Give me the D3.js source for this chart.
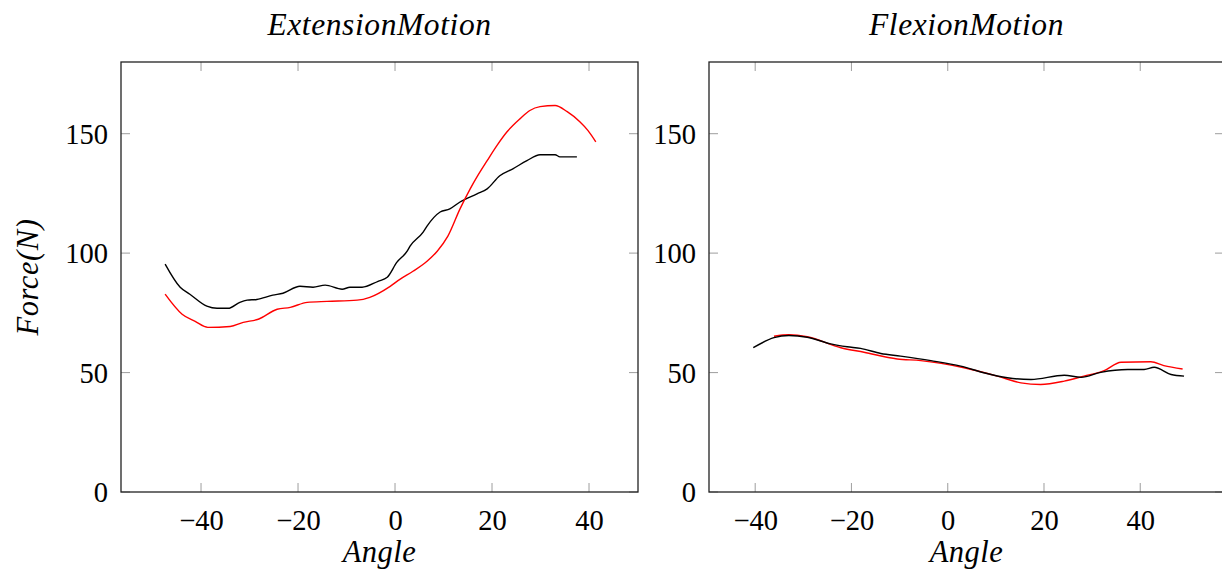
<!DOCTYPE html>
<html>
<head>
<meta charset="utf-8">
<script src="https://cdn.jsdelivr.net/npm/d3@7"></script>
<style>
  html, body { margin: 0; padding: 0; background: #fff; }
  svg { display: block; }
  text { font-family: "Liberation Serif", "Times New Roman", Times, serif; fill: #000; }
</style>
</head>
<body>
<svg id="chart" width="1222" height="572"></svg>
<script>
// ---------- data ----------
const extBlackAngle = [-47.4, -44.3, -42.3, -38.8, -36.7, -34.4, -32, -30.5, -28.5, -25.2, -23.1, -19.6, -16.9, -14.4, -10.9, -9.3, -6.8, -3.5, -1.6, 0.4, 2.5, 3.1, 5.8, 6.6, 9.3, 11.3, 13.4, 16.9, 19, 21.6, 24.3, 27.2, 29.9, 33, 34, 37.5];
const extBlackForce = [95.4, 85.7, 82.8, 77.8, 76.9, 76.9, 79.4, 80.3, 80.6, 82.4, 83.2, 86.1, 85.7, 86.6, 84.9, 85.7, 85.7, 88.2, 89.9, 96.2, 100.8, 102.9, 108.8, 111.3, 117.2, 118.5, 121.4, 124.8, 126.9, 132.4, 135.3, 138.7, 141.2, 141.2, 140.3, 140.3];
const extRedAngle = [-47.4, -43.9, -41.2, -38.6, -34, -31.3, -28.2, -24.3, -21.6, -18.1, -14, -7.8, -5.2, -1, 1, 3.7, 6.6, 8.7, 10.9, 13.4, 15.5, 16.9, 19, 21, 23.1, 25.8, 27.8, 29.9, 33, 35.5, 38.1, 39.8, 41.4];
const extRedForce = [82.8, 74.4, 71.4, 68.9, 69.3, 71, 72.3, 76.5, 77.3, 79.4, 79.8, 80.3, 81.5, 86.1, 89, 92.4, 96.6, 100.8, 107.1, 118.5, 126.9, 131.9, 138.7, 145, 150.8, 156.3, 159.7, 161.3, 161.8, 159.2, 155, 151.3, 146.6];

const flxBlackAngle = [-40.4, -36.1, -33, -29.2, -24.3, -20.9, -18.1, -13.9, -9.8, -3.5, 2.7, 7.5, 12.4, 17.3, 24.2, 27.7, 31.8, 37.4, 40.8, 42.9, 46.4, 49.1];
const flxBlackForce = [60.4, 64.6, 65.5, 64.8, 62, 60.8, 60.1, 58, 56.9, 55, 52.7, 49.9, 47.8, 47.1, 48.9, 48, 50.1, 51.3, 51.3, 52.2, 49.2, 48.5];
const flxRedAngle = [-36.1, -33, -29.2, -22.2, -17.4, -10.5, -5.6, 3.4, 10.3, 15.2, 19.3, 24.2, 28.3, 32.5, 36, 42.2, 44.9, 48.8];
const flxRedForce = [65.2, 65.8, 65, 60.4, 58.5, 55.7, 55, 52, 48.5, 45.7, 45, 46.4, 48.5, 50.8, 54.3, 54.5, 52.9, 51.5];

const xTicks = [-40, -20, 0, 20, 40];
const yTicks = [0, 50, 100, 150];
const titles = ["ExtensionMotion", "FlexionMotion"];
const xLabel = "Angle";
const yLabel = "Force(N)";

// ---------- layout ----------
const svg = d3.select("#chart");
const plotTop = 62, plotBottom = 492;
const panels = [
  { x0: 121, x1: 638, domain: [-56.5, 50.1], title: titles[0],
    series: [ {a: extBlackAngle, f: extBlackForce, c: "#000"}, {a: extRedAngle, f: extRedForce, c: "#ff0000"} ], ylab: true },
  { x0: 709, x1: 1224, domain: [-49.6, 57.4], title: titles[1],
    series: [ {a: flxRedAngle, f: flxRedForce, c: "#ff0000"}, {a: flxBlackAngle, f: flxBlackForce, c: "#000"} ], ylab: false }
];

const fs = 28.5;
const fsLabel = 30.5;
const tickLen = 9;
const tickColor = "#a6a6a6";

panels.forEach(p => {
  const x = d3.scaleLinear().domain(p.domain).range([p.x0, p.x1]);
  const y = d3.scaleLinear().domain([0, 180]).range([plotBottom, plotTop]);
  const g = svg.append("g");

  const gt = g.append("g").attr("stroke", tickColor).attr("stroke-width", 1.1);
  xTicks.forEach(t => {
    gt.append("line").attr("x1", x(t)).attr("x2", x(t)).attr("y1", plotBottom).attr("y2", plotBottom - tickLen);
    gt.append("line").attr("x1", x(t)).attr("x2", x(t)).attr("y1", plotTop).attr("y2", plotTop + tickLen);
  });
  yTicks.forEach(t => {
    gt.append("line").attr("x1", p.x0).attr("x2", p.x0 + tickLen).attr("y1", y(t)).attr("y2", y(t));
    gt.append("line").attr("x1", p.x1).attr("x2", p.x1 - tickLen).attr("y1", y(t)).attr("y2", y(t));
  });

  const xa = g.append("g").attr("transform", `translate(0,${plotBottom})`)
    .call(d3.axisBottom(x).tickValues(xTicks).tickSize(0).tickPadding(18));
  xa.select(".domain").remove();
  xa.selectAll("text").attr("font-size", fs).attr("dy", "0.71em");

  const ya = g.append("g").attr("transform", `translate(${p.x0},0)`)
    .call(d3.axisLeft(y).tickValues(yTicks).tickSize(0).tickPadding(13));
  ya.select(".domain").remove();
  ya.selectAll("text").attr("font-size", fs).attr("dy", "0.34em");

  const line = d3.line().x(d => x(d[0])).y(d => y(d[1])).curve(d3.curveMonotoneX);
  p.series.forEach(s => {
    const pts = s.a.map((v, i) => [v, s.f[i]]);
    g.append("path").attr("d", line(pts)).attr("fill", "none")
      .attr("stroke", s.c).attr("stroke-width", 1.4);
  });

  g.append("rect").attr("x", p.x0).attr("y", plotTop).attr("width", p.x1 - p.x0).attr("height", plotBottom - plotTop)
    .attr("fill", "none").attr("stroke", "#222").attr("stroke-width", 1.3);

  g.append("text").attr("x", (p.x0 + p.x1) / 2).attr("y", 35).attr("text-anchor", "middle")
    .attr("font-size", 31.5).attr("font-style", "italic").attr("letter-spacing", 0.6).text(p.title);

  g.append("text").attr("x", (p.x0 + p.x1) / 2).attr("y", 562).attr("text-anchor", "middle")
    .attr("font-size", fsLabel).attr("font-style", "italic").attr("letter-spacing", 0.5).text(xLabel);

  if (p.ylab) {
    g.append("text").attr("transform", `translate(38,${(plotTop + plotBottom) / 2}) rotate(-90)`)
      .attr("text-anchor", "middle").attr("font-size", fsLabel).attr("font-style", "italic")
      .attr("letter-spacing", 0.6).text(yLabel);
  }
});
</script>
</body>
</html>
